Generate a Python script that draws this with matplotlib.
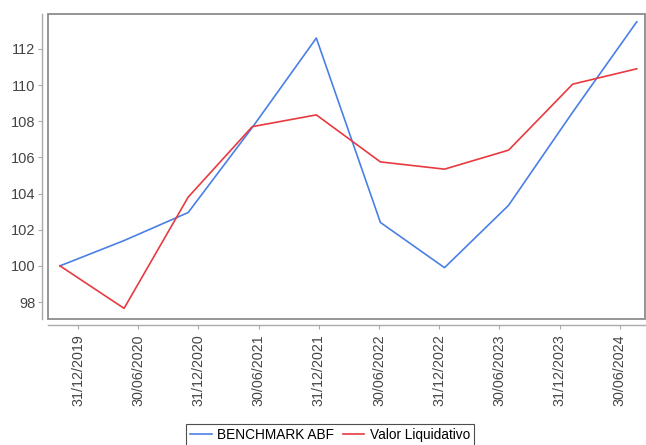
import numpy as np
import matplotlib
matplotlib.use("Agg")
from matplotlib import pyplot as plt
from matplotlib.patches import Rectangle

plt.rcParams['font.family'] = ['Liberation Sans', 'DejaVu Sans']

dates = ["31/12/2019", "30/06/2020", "31/12/2020", "30/06/2021", "31/12/2021",
         "30/06/2022", "31/12/2022", "30/06/2023", "31/12/2023", "30/06/2024"]
benchmark = [100.0, 101.4, 102.95, 107.65, 112.6, 102.4, 99.9, 103.35, 108.5, 113.5]
valor = [100.0, 97.65, 103.8, 107.7, 108.35, 105.75, 105.35, 106.4, 110.05, 110.9]

blue = '#4a80e6'
red = '#e83a40'
grey_txt = '#444444'

fig = plt.figure(figsize=(6.46, 4.45), dpi=100)
ax = fig.add_axes([0.0743, 0.2831, 0.924, 0.6854])

x = np.arange(len(dates))
ax.plot(x, benchmark, color=blue, lw=1.2, label="BENCHMARK ABF")
ax.plot(x, valor, color=red, lw=1.2, label="Valor Liquidativo")

ax.set_xlim(-0.187, 9.127)
ax.set_ylim(97.06, 113.93)
ax.set_yticks(np.arange(98, 113, 2))

# category labels sit on their own spacing, a bit off the data points
x0, x1 = ax.get_xlim()
tick_pos = x0 + (x1 - x0) * np.linspace(0.0503, 0.958, len(dates))
ax.set_xticks(tick_pos)
ax.set_xticklabels(dates)
ax.tick_params(axis='y', labelsize=10.5, labelcolor=grey_txt, length=3, color='#aaaaaa', pad=2)
ax.tick_params(axis='x', labelsize=10.3, labelcolor=grey_txt, labelrotation=90,
               length=3, color='#aaaaaa', pad=4)

for s in ['left', 'bottom']:
    ax.spines[s].set_position(('outward', 4))
    ax.spines[s].set_color('#aaaaaa')
    ax.spines[s].set_linewidth(1.0)
for s in ['top', 'right']:
    ax.spines[s].set_visible(False)
ax.add_patch(Rectangle((0, 0), 1, 1, transform=ax.transAxes, fill=False,
                       edgecolor='#8c8c8c', lw=1.3, clip_on=False, zorder=5))

leg = fig.legend(loc='upper center', bbox_to_anchor=(0.511, 1 - 424 / 445),
                 ncol=2, fontsize=9.8, frameon=True, fancybox=False,
                 handlelength=1.6, handletextpad=0.4, columnspacing=0.6,
                 borderpad=0.3, borderaxespad=0)
leg.get_frame().set_edgecolor('#222222')
leg.get_frame().set_linewidth(0.8)

fig.savefig("out.png", dpi=100)
